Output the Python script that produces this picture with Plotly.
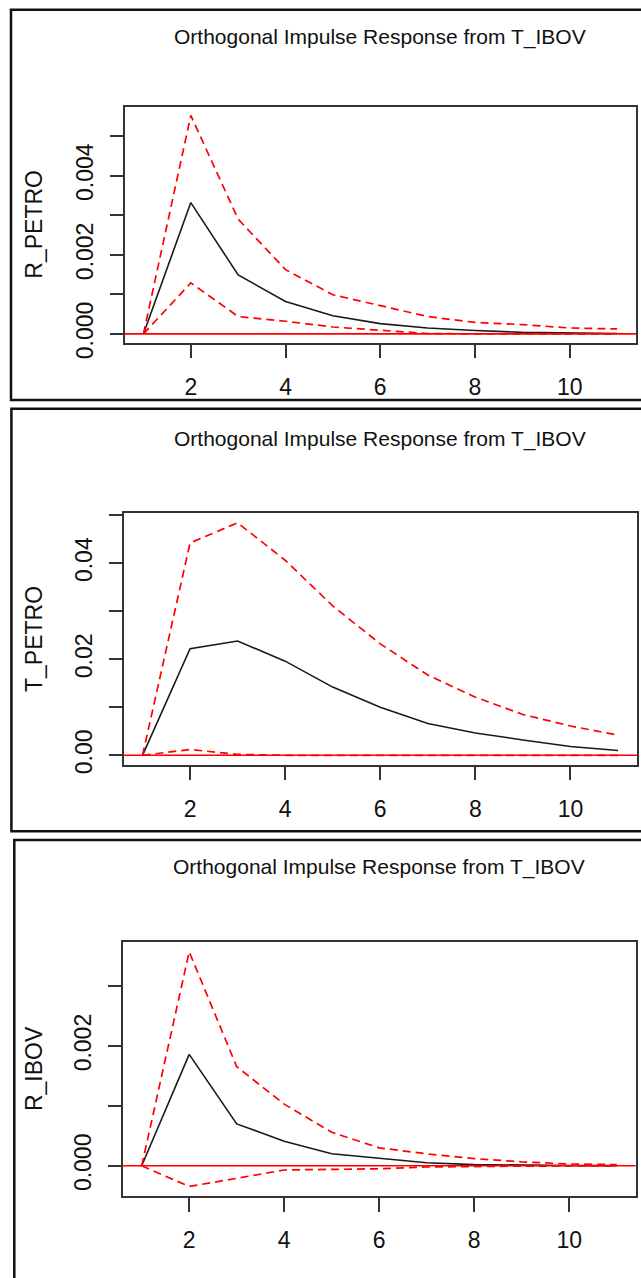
import plotly.graph_objects as go

W, H = 641, 1278

# Forecast horizon (steps)
horizon = [1, 2, 3, 4, 5, 6, 7, 8, 9, 10, 11]

# Response of R_PETRO to a T_IBOV shock, with bootstrap bounds
r_petro_irf = [0.0, 0.00332, 0.00149, 0.00082, 0.00046, 0.00026, 0.00015, 0.000085, 0.00004, 0.00002, 0.00001]
r_petro_upper = [0.0, 0.005525, 0.0029, 0.001625, 0.00099, 0.00071, 0.00044, 0.00029, 0.000235, 0.00015, 0.000125]
r_petro_lower = [0.0, 0.00129, 0.00044, 0.00032, 0.000175, 0.000085, 0.00001, 0.0, 0.0, 0.0, 0.0]

# Response of T_PETRO
t_petro_irf = [0.0, 0.0222, 0.0238, 0.0196, 0.0142, 0.0100, 0.0066, 0.00465, 0.0032, 0.00184, 0.0010]
t_petro_upper = [0.0, 0.0442, 0.0484, 0.0406, 0.0311, 0.0232, 0.0167, 0.0121, 0.0085, 0.0061, 0.0042]
t_petro_lower = [0.0, 0.0012, 0.0002, 0.0, 0.0, 0.0, 0.0, 0.0, 0.0, 0.0, 0.0]

# Response of R_IBOV
r_ibov_irf = [0.0, 0.00186, 0.00070, 0.00041, 0.00020, 0.00012, 0.00005, 0.00002, 0.00001, 0.000005, 0.000003]
r_ibov_upper = [0.0, 0.003575, 0.001656, 0.00103, 0.00056, 0.00030, 0.00020, 0.00012, 0.000066, 0.00003, 0.00002]
r_ibov_lower = [0.0, -0.000345, -0.00021, -0.00007, -0.00006, -0.00005, -0.00002, -0.00001, -0.000005, -0.000003, -0.000002]

# Axis ticks and labels
x_tickvals = [2, 4, 6, 8, 10]
x_ticktext = ["2", "4", "6", "8", "10"]
r_petro_tickvals = [0.0, 0.001, 0.002, 0.003, 0.004, 0.005]
r_petro_ticktext = ["0.000", "", "0.002", "", "0.004", ""]
t_petro_tickvals = [0.0, 0.01, 0.02, 0.03, 0.04, 0.05]
t_petro_ticktext = ["0.00", "", "0.02", "", "0.04", ""]
r_ibov_tickvals = [0.0, 0.001, 0.002, 0.003]
r_ibov_ticktext = ["0.000", "", "0.002", ""]

title_text = "Orthogonal Impulse Response from T_IBOV"
y_names = ["R_PETRO", "T_PETRO", "R_IBOV"]

# Pixel geometry of each panel: plot box (left, right, top, bottom),
# outer frame (left, top, bottom) and title centre line.
panels = [
    dict(irf=r_petro_irf, up=r_petro_upper, lo=r_petro_lower,
         tv=r_petro_tickvals, tt=r_petro_ticktext,
         box=(124.5, 636.0, 108.0, 347.0), frame=(11, 10, 405), title_y=37),
    dict(irf=t_petro_irf, up=t_petro_upper, lo=t_petro_lower,
         tv=t_petro_tickvals, tt=t_petro_ticktext,
         box=(123.5, 637.0, 520.0, 774.3), frame=(11.4, 414, 841.7), title_y=445),
    dict(irf=r_ibov_irf, up=r_ibov_upper, lo=r_ibov_lower,
         tv=r_ibov_tickvals, tt=r_ibov_ticktext,
         box=(122.7, 635.7, 954.3, 1211.0), frame=(14.3, 850.7, 1300), title_y=878),
]

AX = "#333333"
TICK_FONT = dict(family="Liberation Sans, Arial, sans-serif", size=23, color="#111111")
TITLE_FONT = dict(family="Liberation Sans, Arial, sans-serif", size=21, color="#111111")
DASH = "8px,5px"


def ext_range(values, frac=0.04):
    """R-style axis range: data span widened by 4% on each side."""
    lo, hi = min(values), max(values)
    pad = (hi - lo) * frac
    return [lo - pad, hi + pad]


fig = go.Figure()
shapes = []
annotations = []
layout = {}

x_range = ext_range(horizon)

for i, p in enumerate(panels, start=1):
    xs = "" if i == 1 else str(i)
    xref, yref = "x" + xs, "y" + xs
    left, right, top, bottom = p["box"]

    for series, color, dash, width in [
        (p["irf"], "#1a1a1a", "solid", 1.6),
        (p["up"], "#ff0000", DASH, 1.7),
        (p["lo"], "#ff0000", DASH, 1.7),
    ]:
        fig.add_trace(go.Scatter(
            x=horizon, y=series, mode="lines", xaxis=xref, yaxis=yref,
            line=dict(color=color, width=width, dash=dash),
            hoverinfo="skip", showlegend=False,
        ))

    yr = ext_range(p["irf"] + p["up"] + p["lo"])

    layout["xaxis" + xs] = dict(
        domain=[left / W, right / W], anchor=yref, range=x_range,
        tickmode="array", tickvals=x_tickvals, ticktext=x_ticktext,
        ticks="outside", ticklen=14, tickwidth=1.5, tickcolor=AX,
        showline=True, linecolor=AX, linewidth=1.5, mirror=True,
        showgrid=False, zeroline=False, tickfont=TICK_FONT,
        ticklabelstandoff=9,
    )
    layout["yaxis" + xs] = dict(
        domain=[1 - bottom / H, 1 - top / H], anchor=xref, range=yr,
        tickmode="array", tickvals=p["tv"], ticktext=p["tt"],
        ticks="outside", ticklen=13, tickwidth=1.5, tickcolor=AX,
        showline=True, linecolor=AX, linewidth=1.5, mirror=True,
        showgrid=False, zeroline=False, tickfont=TICK_FONT,
        tickangle=-90, ticklabelstandoff=8,
    )

    # horizontal reference line at zero
    shapes.append(dict(type="line", xref=xref + " domain", yref=yref,
                       x0=0, x1=1, y0=0, y1=0,
                       line=dict(color="#ff0000", width=1.6)))

    # outer frame around each panel
    fx, ft, fb = p["frame"]
    shapes.append(dict(type="rect", xref="paper", yref="paper",
                       x0=fx / W, x1=1.02, y0=1 - fb / H, y1=1 - ft / H,
                       line=dict(color="#111111", width=2.5), layer="above"))

    annotations.append(dict(
        text=title_text, xref="paper", yref="paper",
        x=(left + right) / 2 / W, y=1 - p["title_y"] / H,
        xanchor="center", yanchor="middle", showarrow=False, font=TITLE_FONT,
    ))
    annotations.append(dict(
        text=y_names[i - 1], xref="paper", yref="paper",
        x=34 / W, y=1 - (top + bottom) / 2 / H, textangle=-90,
        xanchor="center", yanchor="middle", showarrow=False,
        font=dict(family="Liberation Sans, Arial, sans-serif", size=23, color="#111111"),
    ))

fig.update_layout(
    width=W, height=H, margin=dict(l=0, r=0, t=0, b=0),
    paper_bgcolor="white", plot_bgcolor="white",
    showlegend=False, shapes=shapes, annotations=annotations,
    **layout,
)

fig.write_html("out.html")
